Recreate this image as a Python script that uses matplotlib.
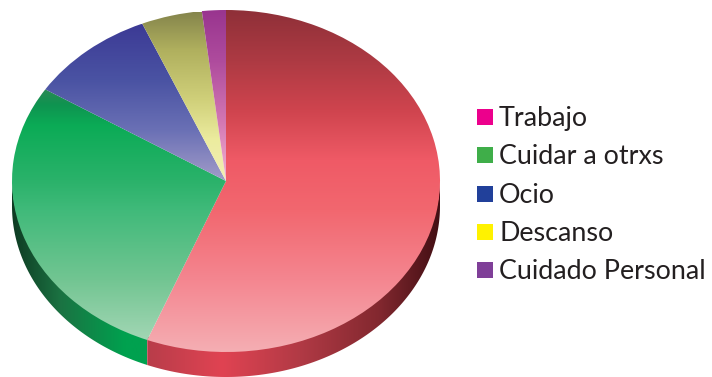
import numpy as np
import matplotlib
matplotlib.use("Agg")
import matplotlib.pyplot as plt
from matplotlib.colors import LinearSegmentedColormap
from matplotlib.patches import Polygon, Rectangle

W, H = 712, 377
CX, CY, RX, RY, DEPTH = 226, 181, 214, 171, 25

categories = ["Trabajo", "Cuidar a otrxs", "Ocio", "Descanso", "Cuidado Personal"]
shares = [56.0, 28.0, 9.6, 4.6, 1.8]
legend_colors = ["#ec008c", "#3fae49", "#21409a", "#fff200", "#7f3f98"]

# Vertical shading of each slice face: (figure row in px, colour)
face_stops = [
    [(10, "#8f3038"), (60, "#ad3a43"), (110, "#cf444e"), (160, "#ef5a66"),
     (210, "#f2676f"), (280, "#f48690"), (352, "#f5aeb3")],
    [(89, "#2a8a55"), (104, "#0f9350"), (125, "#0bab56"), (180, "#2ab26a"), (210, "#40ba7a"),
     (280, "#72c592"), (340, "#a2d6b4")],
    [(24, "#3c3a95"), (80, "#4a53a3"), (130, "#6a70b5"), (181, "#a29cc9")],
    [(12, "#85854c"), (50, "#b0b05e"), (100, "#d0d07a"), (140, "#ecec9f"), (181, "#f2efb5")],
    [(10, "#99358f"), (60, "#ae4b9d"), (120, "#d276b2"), (181, "#f2b4d2")],
]
# Horizontal shading of the visible side wall: (figure column in px, colour)
rim_stops = [
    [(147, "#b83d4a"), (222, "#e04352"), (300, "#b13a45"), (380, "#82282f"), (440, "#430f14")],
    [(12, "#0e3a22"), (60, "#1b7242"), (125, "#00a14f"), (147, "#00a14f")],
]


def ramp(stops):
    lo, hi = stops[0][0], stops[-1][0]
    return LinearSegmentedColormap.from_list(
        "ramp", [((p - lo) / (hi - lo), c) for p, c in stops]), lo, hi


def px_x(v):
    return (v - CX) / RX


def px_y(v):
    return (CY - v) / RY


fig = plt.figure(figsize=(W / 100, H / 100), dpi=100)
ax = fig.add_axes([0, 0, 1, 1])

wedges, _ = ax.pie(shares, startangle=90, counterclock=False, radius=1,
                   wedgeprops=dict(linewidth=0))
ax.set_aspect("auto")
depth = DEPTH / RY

# Side wall, limited to the front half of the ellipse (angles below zero)
for wedge, stops in zip(wedges, rim_stops):
    t = np.radians(np.linspace(max(wedge.theta1, -180), min(wedge.theta2, 0), 200))
    x, y = np.cos(t), np.sin(t)
    verts = np.r_[np.c_[x, y + 0.02], np.c_[x, y - depth][::-1]]
    poly = Polygon(verts, closed=True, facecolor="none", edgecolor="none")
    ax.add_patch(poly)
    cmap, a, b = ramp(stops)
    im = ax.imshow(np.linspace(0, 1, 512)[None, :], cmap=cmap, aspect="auto",
                   extent=[px_x(a), px_x(b), -2, 2], zorder=1, interpolation="bilinear")
    im.set_clip_path(poly)

# Slice faces with vertical shading
for wedge, stops in zip(wedges, face_stops):
    wedge.set_facecolor("none")
    cmap, a, b = ramp(stops)
    im = ax.imshow(np.linspace(0, 1, 512)[:, None], cmap=cmap, aspect="auto",
                   extent=[-1.1, 1.1, px_y(b), px_y(a)], origin="upper", zorder=2,
                   interpolation="bilinear")
    im.set_clip_path(wedge)

ax.set_xlim(px_x(0), px_x(W))
ax.set_ylim(px_y(H), px_y(0))
ax.axis("off")

# Legend placed in figure pixels
rows = [117, 155, 194, 232, 270]
for label, color, row in zip(categories, legend_colors, rows):
    fig.add_artist(Rectangle((477 / W, 1 - (row + 8) / H), 16 / W, 16 / H,
                             transform=fig.transFigure, facecolor=color, edgecolor="none"))
    fig.text(499 / W, 1 - (row + 9) / H, label, fontsize=19.4, family="Lato",
             color="#231f20", va="baseline", ha="left")

fig.savefig("out.png", dpi=100, facecolor="white")
